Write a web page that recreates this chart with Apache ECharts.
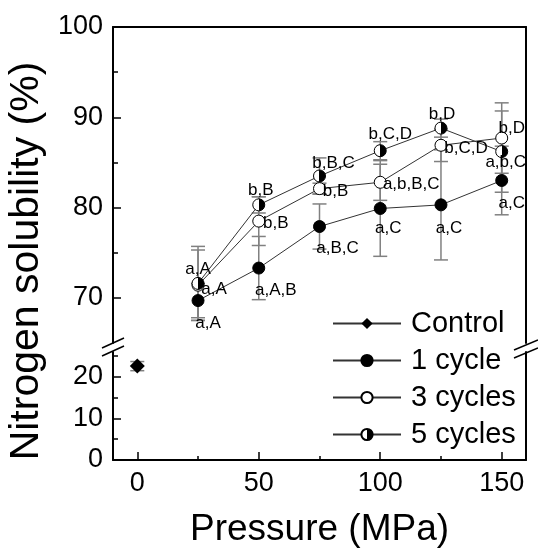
<!DOCTYPE html>
<html><head><meta charset="utf-8">
<script src="https://cdn.jsdelivr.net/npm/echarts@6/dist/echarts.min.js"></script>
<style>html,body{margin:0;padding:0;background:#fff}#c{width:538px;height:554px}</style>
</head><body><div id="c"></div>
<script>
// ---- data ----
const pressures = [25, 50, 75, 100, 125, 150];
const controlPressure = [0];
const controlValue = [22.6];
const controlErr = [1.1];
const cycle1 = [69.7, 73.3, 77.9, 79.9, 80.3, 83.0];
const cycle1Err = [1.9, 3.5, 2.5, 5.3, 6.1, 3.8];
const cycle3 = [71.4, 78.5, 82.1, 82.8, 86.9, 87.7];
const cycle3Err = [3.9, 2.7, 0.6, 2.0, 1.8, 3.9];
const cycle5 = [71.6, 80.3, 83.5, 86.3, 88.8, 86.2];
const cycle5Err = [4.1, 0.9, 2.0, 1.0, 1.0, 4.5];
const cycle1Letters = ['a,A', 'a,A,B', 'a,B,C', 'a,C', 'a,C', 'a,C'];
const cycle3Letters = ['a,A', 'b,B', 'b,B', 'a,b,B,C', 'b,C,D', 'b,D'];
const cycle5Letters = ['a,A', 'b,B', 'b,B,C', 'b,C,D', 'b,D', 'a,b,C'];
const xTicks = [0, 50, 100, 150];
const xMinorTicks = [25, 75, 125];
const yUpperTicks = [70, 80, 90];
const yUpperLabels = [70, 80, 90, 100];
const yUpperMinor = [75, 85, 95];
const yLowerTicks = [0, 10, 20];
const yLowerMinor = [5, 15, 25];

// ---- styles (label offsets in px) ----
const off1 = [[10, 23], [17, 22], [18, 22], [8, 20], [8, 23], [10, 23]];
const off3 = [[16, 4], [17, 2], [16, 3], [31, 2], [25, 3], [10, -10]];
const off5 = [[0, -14], [2, -15], [14, -13], [10, -16], [1, -14], [4, 11]];
const FF = "'Liberation Sans', Arial, Helvetica, sans-serif";
const G = {left: 113, right: 12, upTop: 27, upH: 316, lowTop: 352, lowH: 108};

const chart = echarts.init(document.getElementById('c'), null, {renderer: 'canvas'});

function errSeries(name, xs, ys, es, xi, yi) {
  return {
    type: 'custom', name: name, xAxisIndex: xi, yAxisIndex: yi, z: 1, silent: true,
    data: xs.map((x, i) => [x, ys[i], es[i]]),
    encode: {x: 0, y: 1},
    renderItem(params, api) {
      const x = api.value(0), y = api.value(1), e = api.value(2);
      const t = api.coord([x, y + e]), b = api.coord([x, y - e]);
      const hw = 7;
      const st = {stroke: '#808080', lineWidth: 1.5, fill: null};
      return {type: 'group', children: [
        {type: 'line', shape: {x1: t[0], y1: t[1], x2: b[0], y2: b[1]}, style: st},
        {type: 'line', shape: {x1: t[0] - hw, y1: t[1], x2: t[0] + hw, y2: t[1]}, style: st},
        {type: 'line', shape: {x1: b[0] - hw, y1: b[1], x2: b[0] + hw, y2: b[1]}, style: st}
      ]};
    }
  };
}

function lineSeries(name, xs, ys, letters, offs, symbol, itemStyle, xi, yi, size) {
  return {
    type: 'line', name: name, xAxisIndex: xi, yAxisIndex: yi, z: 3,
    symbol: symbol, symbolSize: size || 12,
    showAllSymbol: true,
    data: xs.map((x, i) => ({value: [x, ys[i]], label: offs ? {offset: offs[i]} : undefined})),
    itemStyle: itemStyle,
    lineStyle: {color: '#333', width: 1},
    label: letters ? {
      show: true, position: 'inside', color: '#000', fontSize: 17, fontFamily: FF,
      align: 'center', verticalAlign: 'middle',
      formatter: p => letters[p.dataIndex]
    } : {show: false},
    emphasis: {disabled: true}
  };
}

const halfFill = {type: 'linear', x: 0, y: 0, x2: 1, y2: 0, colorStops: [
  {offset: 0, color: '#fff'}, {offset: 0.5, color: '#fff'},
  {offset: 0.5, color: '#000'}, {offset: 1, color: '#000'}]};

const axisLine = {show: true, onZero: false, lineStyle: {color: '#000', width: 2}};
const noLine = {show: false, onZero: false};
const noAxis = {show: false};

const option = {
  animation: false,
  backgroundColor: '#fff',
  grid: [
    {left: G.left, right: G.right, top: G.upTop, height: G.upH, containLabel: false},
    {left: G.left, right: G.right, top: G.lowTop, height: G.lowH, containLabel: false}
  ],
  xAxis: [
    {gridIndex: 0, type: 'value', min: -10, max: 160, position: 'top',
     axisLine: axisLine, axisTick: noAxis, axisLabel: noAxis, splitLine: noAxis},
    {gridIndex: 1, type: 'value', min: -10, max: 160, position: 'bottom',
     axisLine: axisLine,
     axisTick: {show: true, inside: true, length: 8, customValues: xTicks, lineStyle: {color: '#000', width: 1.5}},
     axisLabel: {show: true, customValues: xTicks, fontSize: 27, color: '#000', fontFamily: FF, margin: 10},
     splitLine: noAxis,
     name: 'Pressure (MPa)', nameLocation: 'middle', nameGap: 51,
     nameTextStyle: {fontSize: 37, color: '#000', fontFamily: FF}},
    {gridIndex: 1, type: 'value', min: -10, max: 160, position: 'bottom',
     axisLine: noLine,
     axisTick: {show: true, inside: true, length: 4, customValues: xMinorTicks, lineStyle: {color: '#000', width: 1.5}},
     axisLabel: noAxis, splitLine: noAxis}
  ],
  yAxis: [
    {gridIndex: 0, type: 'value', min: 65, max: 100, position: 'left',
     axisLine: axisLine,
     axisTick: {show: true, inside: true, length: 8, customValues: yUpperTicks, lineStyle: {color: '#000', width: 1.5}},
     axisLabel: {show: true, customValues: yUpperLabels, fontSize: 27, color: '#000', fontFamily: FF, margin: 10},
     splitLine: noAxis},
    {gridIndex: 0, type: 'value', min: 65, max: 100, position: 'left',
     axisLine: noLine,
     axisTick: {show: true, inside: true, length: 5, customValues: yUpperMinor, lineStyle: {color: '#000', width: 1.5}},
     axisLabel: noAxis, splitLine: noAxis},
    {gridIndex: 0, type: 'value', min: 65, max: 100, position: 'right',
     axisLine: axisLine, axisTick: noAxis, axisLabel: noAxis, splitLine: noAxis},
    {gridIndex: 1, type: 'value', min: 0, max: 26, position: 'left',
     axisLine: axisLine,
     axisTick: {show: true, inside: true, length: 8, customValues: yLowerTicks, lineStyle: {color: '#000', width: 1.5}},
     axisLabel: {show: true, customValues: yLowerTicks, fontSize: 27, color: '#000', fontFamily: FF, margin: 10},
     splitLine: noAxis},
    {gridIndex: 1, type: 'value', min: 0, max: 26, position: 'left',
     axisLine: noLine,
     axisTick: {show: true, inside: true, length: 5, customValues: yLowerMinor, lineStyle: {color: '#000', width: 1.5}},
     axisLabel: noAxis, splitLine: noAxis},
    {gridIndex: 1, type: 'value', min: 0, max: 26, position: 'right',
     axisLine: axisLine, axisTick: noAxis, axisLabel: noAxis, splitLine: noAxis}
  ],
  legend: {
    data: ['Control', '1 cycle', '3 cycles', '5 cycles'],
    orient: 'vertical', left: 327, top: 304,
    itemWidth: 68, itemHeight: 14, itemGap: 8,
    selectedMode: false,
    textStyle: {fontSize: 29, lineHeight: 29, color: '#000', fontFamily: FF, padding: [0, 0, 0, 5]}
  },
  series: [
    errSeries('Control err', controlPressure, controlValue, controlErr, 1, 3),
    errSeries('1 cycle err', pressures, cycle1, cycle1Err, 0, 0),
    errSeries('3 cycles err', pressures, cycle3, cycle3Err, 0, 0),
    errSeries('5 cycles err', pressures, cycle5, cycle5Err, 0, 0),
    lineSeries('Control', controlPressure, controlValue, null, null, 'diamond',
      {color: '#000', borderColor: '#000', borderWidth: 0}, 1, 3, 15),
    lineSeries('1 cycle', pressures, cycle1, cycle1Letters, off1, 'circle',
      {color: '#000', borderColor: '#000', borderWidth: 1}, 0, 0),
    lineSeries('3 cycles', pressures, cycle3, cycle3Letters, off3, 'circle',
      {color: '#fff', borderColor: '#000', borderWidth: 1}, 0, 0),
    lineSeries('5 cycles', pressures, cycle5, cycle5Letters, off5, 'circle',
      {color: halfFill, borderColor: '#000', borderWidth: 1}, 0, 0)
  ],
  graphic: [
    {type: 'text', x: 27, y: 261, rotation: Math.PI / 2,
     style: {text: 'Nitrogen solubility (%)', fontSize: 41, fontFamily: FF, fill: '#000',
             align: 'center', verticalAlign: 'middle'}},
    {type: 'line', shape: {x1: 102, y1: 348, x2: 124, y2: 338}, style: {stroke: '#000', lineWidth: 1.5}},
    {type: 'line', shape: {x1: 102, y1: 356, x2: 124, y2: 346}, style: {stroke: '#000', lineWidth: 1.5}},
    {type: 'line', shape: {x1: 514, y1: 350, x2: 538, y2: 340}, style: {stroke: '#000', lineWidth: 1.5}},
    {type: 'line', shape: {x1: 514, y1: 358, x2: 538, y2: 348}, style: {stroke: '#000', lineWidth: 1.5}}
  ]
};
chart.setOption(option);
</script>
</body></html>
